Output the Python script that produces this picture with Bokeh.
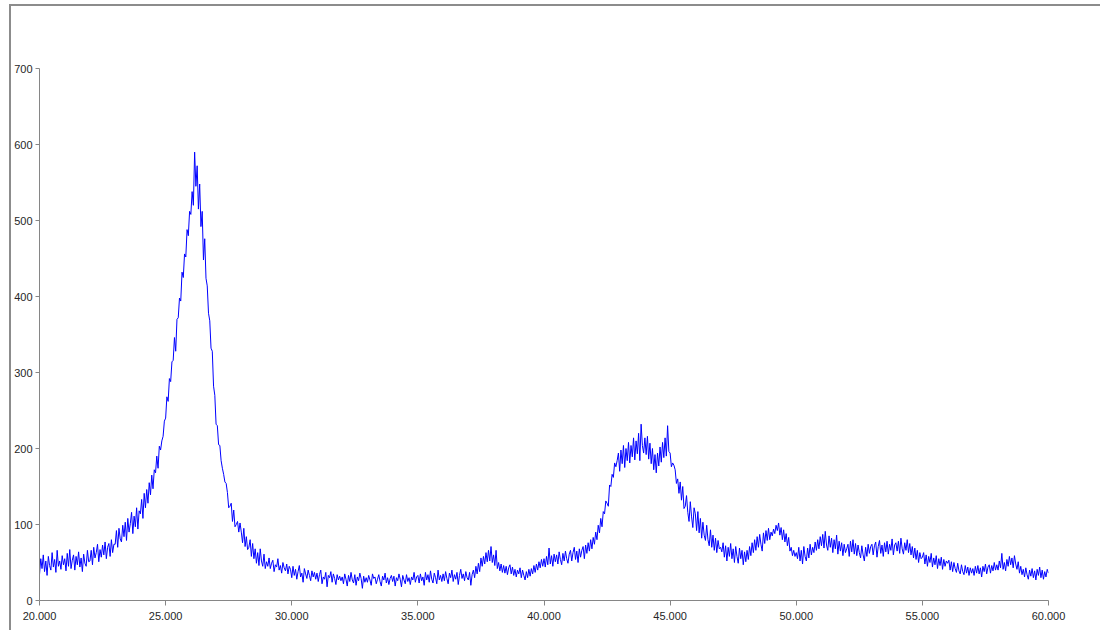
from bokeh.plotting import figure
from bokeh.models import FixedTicker, PrintfTickFormatter, Range1d
from bokeh.embed import file_html
from bokeh.resources import INLINE

# 2-theta scan: start, step (degrees)
scan_start = 20.0
scan_step = 0.05

counts_20_30 = [
    34, 55, 42, 60, 38, 52, 33, 58, 46, 40, 63, 44, 54, 37, 66, 45, 52, 41, 59, 47,
    55, 39, 62, 45, 67, 42, 53, 60, 40, 58, 47, 64, 44, 56, 38, 61, 49, 45, 66, 51,
    52, 66, 47, 70, 56, 63, 74, 51, 67, 57, 73, 60, 77, 55, 70, 75, 58, 80, 63, 74,
    74, 92, 70, 95, 81, 77, 99, 84, 103, 79, 108, 90, 101, 116, 88, 111, 97, 122, 94, 118,
    114, 133, 108, 141, 122, 146, 128, 155, 139, 165, 147, 172, 168, 190, 174, 203, 198, 210, 216, 236,
    240, 268, 262, 292, 288, 314, 316, 346, 328, 370, 372, 398, 394, 432, 425, 456, 452, 488, 480, 512,
    508, 538, 520, 590, 545, 572, 515, 548, 492, 512, 448, 476, 424, 414, 378, 368, 332, 328, 282, 270,
    232, 230, 205, 204, 184, 174, 166, 156, 154, 142, 122, 124, 128, 104, 119, 97, 100, 104, 90, 102,
    90, 76, 95, 71, 84, 67, 70, 80, 58, 75, 55, 68, 49, 63, 46, 68, 52, 45, 61, 42,
    51, 45, 56, 42, 49, 53, 38, 47, 44, 55, 40, 46, 36, 50, 43, 39, 48, 35, 45, 41,
]
counts_30_40 = [
    30, 45, 33, 41, 28, 38, 46, 31, 36, 24, 42, 35, 29, 40, 33, 26, 39, 31, 37, 28,
    36, 25, 34, 40, 22, 31, 28, 37, 18, 33, 30, 38, 24, 35, 29, 21, 34, 27, 32, 26,
    31, 22, 35, 28, 19, 33, 25, 37, 27, 23, 34, 20, 31, 26, 36, 29, 16, 32, 24, 30,
    24, 33, 27, 20, 35, 29, 31, 22, 28, 34, 25, 19, 32, 27, 36, 23, 30, 21, 29, 33,
    25, 32, 19, 30, 26, 35, 28, 18, 33, 27, 22, 34, 25, 30, 21, 31, 27, 37, 24, 31,
    33, 23, 35, 26, 31, 20, 37, 27, 34, 24, 39, 28, 23, 36, 30, 22, 40, 27, 33, 25,
    35, 26, 38, 29, 22, 36, 30, 40, 25, 34, 28, 37, 21, 33, 41, 29, 35, 26, 38, 30,
    27, 37, 20, 34, 40, 30, 45, 35, 49, 38, 56, 45, 58, 48, 63, 51, 66, 52, 71, 50,
    60, 46, 66, 42, 50, 39, 48, 37, 46, 36, 45, 34, 43, 47, 35, 44, 33, 41, 31, 40,
    35, 43, 30, 40, 33, 27, 38, 30, 41, 32, 42, 35, 46, 37, 48, 40, 51, 43, 54, 45,
]
counts_40_50 = [
    55, 44, 58, 47, 69, 48, 59, 45, 61, 51, 60, 48, 64, 54, 47, 62, 52, 65, 55, 49,
    61, 66, 52, 63, 70, 54, 65, 50, 68, 57, 66, 71, 55, 73, 62, 76, 65, 80, 68, 83,
    74, 90, 80, 99, 89, 108, 97, 117, 114, 131, 128, 124, 152, 150, 166, 162, 181, 176, 184, 194,
    170, 198, 180, 204, 175, 200, 184, 208, 181, 204, 189, 214, 185, 210, 193, 220, 184, 232, 204, 194,
    214, 192, 216, 186, 207, 180, 200, 172, 192, 168, 194, 177, 202, 182, 208, 188, 214, 190, 230, 196,
    194, 176, 181, 178, 172, 154, 160, 141, 156, 132, 150, 121, 124, 138, 116, 104, 130, 110, 96, 122,
    114, 92, 117, 89, 108, 82, 103, 86, 79, 99, 80, 72, 93, 70, 86, 66, 82, 63, 79, 68,
    70, 64, 76, 57, 72, 52, 70, 58, 75, 55, 68, 50, 71, 58, 49, 69, 55, 66, 47, 64,
    51, 66, 54, 71, 59, 76, 63, 80, 66, 84, 70, 87, 74, 65, 89, 75, 92, 79, 95, 80,
    90, 85, 94, 88, 99, 92, 102, 86, 96, 80, 93, 77, 88, 72, 83, 65, 70, 59, 66, 58,
]
counts_50_60 = [
    63, 55, 70, 52, 66, 48, 71, 58, 52, 69, 56, 74, 60, 70, 63, 77, 66, 80, 68, 84,
    72, 87, 69, 91, 73, 66, 85, 70, 82, 63, 80, 68, 86, 61, 78, 65, 76, 59, 74, 63,
    68, 74, 58, 78, 64, 80, 61, 75, 59, 73, 63, 56, 72, 60, 52, 70, 58, 74, 62, 71,
    74, 60, 72, 77, 57, 71, 79, 62, 73, 58, 76, 64, 78, 61, 74, 66, 81, 60, 73, 76,
    65, 78, 62, 82, 68, 61, 76, 66, 80, 63, 75, 60, 71, 56, 69, 54, 66, 50, 63, 55,
    57, 63, 48, 60, 45, 58, 50, 62, 44, 56, 47, 59, 42, 55, 46, 57, 41, 54, 45, 52,
    49, 53, 40, 51, 38, 50, 42, 37, 49, 39, 35, 47, 38, 34, 46, 36, 44, 33, 43, 36,
    42, 33, 45, 36, 46, 35, 43, 31, 45, 38, 48, 35, 44, 47, 36, 46, 39, 50, 40, 47,
    40, 52, 43, 62, 41, 50, 39, 54, 45, 58, 47, 56, 43, 59, 48, 41, 51, 36, 45, 34,
    41, 31, 43, 34, 28, 40, 32, 42, 30, 39, 27, 41, 33, 44, 30, 40, 28, 38, 31, 41,
    36,
]

x_ticks = [20, 25, 30, 35, 40, 45, 50, 55, 60]
y_ticks = [0, 100, 200, 300, 400, 500, 600, 700]

intensity = counts_20_30 + counts_30_40 + counts_40_50 + counts_50_60
two_theta = [round(scan_start + scan_step * i, 2) for i in range(len(intensity))]

p = figure(
    frame_width=1009, frame_height=532,
    min_border_left=26, min_border_top=62, min_border_right=54, min_border_bottom=30,
    x_range=Range1d(20, 60), y_range=Range1d(0, 700),
    output_backend="svg", toolbar_location=None,
)
p.styles = {
    "border-top": "2px solid #8c8c8c",
    "border-left": "2px solid #8c8c8c",
    "margin-left": "9px",
    "margin-top": "4px",
}
p.outline_line_color = None
p.xgrid.grid_line_color = None
p.ygrid.grid_line_color = None
p.background_fill_color = "white"
p.border_fill_color = "white"

p.line(two_theta, intensity, line_color="#0000FF", line_width=1)

for ax in (p.xaxis[0], p.yaxis[0]):
    ax.axis_line_color = "#868686"
    ax.major_tick_line_color = "#868686"
    ax.minor_tick_line_color = None
    ax.major_tick_in = 0
    ax.major_tick_out = 5
    ax.major_label_text_font = "Liberation Sans"
    ax.major_label_text_font_size = "11px"
    ax.major_label_text_color = "#262626"
    ax.major_label_standoff = 6

p.xaxis[0].ticker = FixedTicker(ticks=x_ticks)
p.xaxis[0].formatter = PrintfTickFormatter(format="%.3f")
p.yaxis[0].ticker = FixedTicker(ticks=y_ticks)
p.yaxis[0].major_tick_out = 4
p.yaxis[0].major_label_standoff = 3

open("out.html", "w").write(file_html(p, INLINE))
